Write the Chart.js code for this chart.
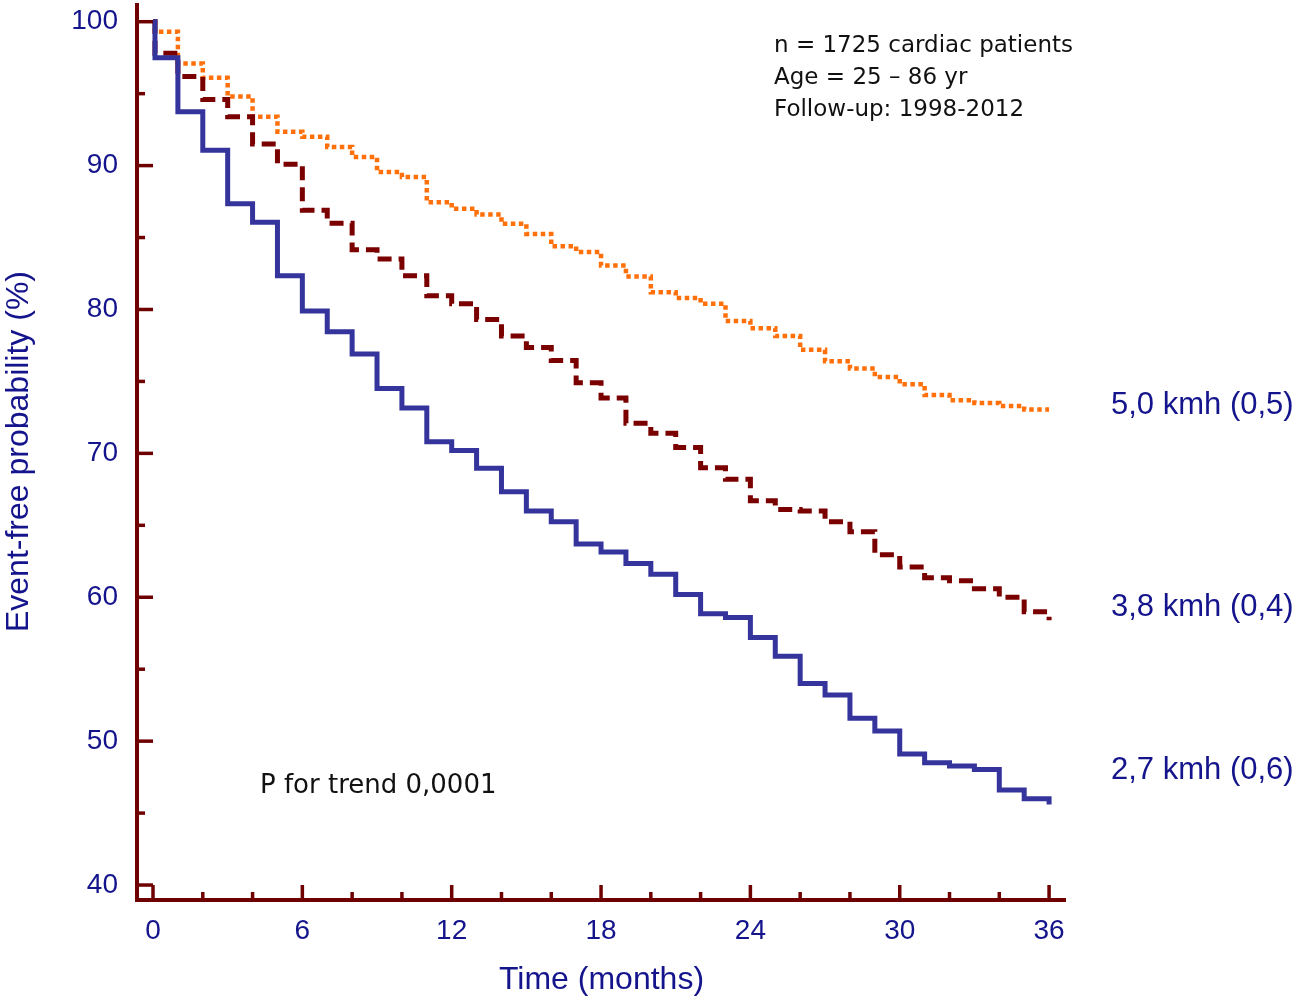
<!DOCTYPE html>
<html>
<head>
<meta charset="utf-8">
<script src="https://cdn.jsdelivr.net/npm/chart.js@4.4.0/dist/chart.umd.min.js"></script>
<style>
  html, body { margin: 0; padding: 0; background: #fff; }
  canvas { display: block; }
</style>
</head>
<body>
<canvas id="km-chart" width="1297" height="1001"></canvas>
<script>
// time axis (months) – first drop happens just after 0
const months = [0, 0.08, 1, 2, 3, 4, 5, 6, 7, 8, 9, 10, 11, 12, 13, 14, 15, 16, 17, 18,
  19, 20, 21, 22, 23, 24, 25, 26, 27, 28, 29, 30, 31, 32, 33, 34, 35, 36];

// event-free probability (%) per group
const slow27 = [100, 97.5, 93.74, 91.07, 87.35, 86.07, 82.35, 79.9, 78.46, 76.9, 74.5, 73.15,
  70.8, 70.2, 68.97, 67.34, 66.0, 65.25, 63.7, 63.15, 62.35, 61.6, 60.2, 58.85, 58.6, 57.2,
  55.9, 54.0, 53.2, 51.6, 50.7, 49.1, 48.5, 48.27, 48.03, 46.6, 46.0, 45.6];
const mid38 = [100, 97.8, 96.2, 94.6, 93.4, 91.5, 90.1, 86.9, 86.0, 84.15, 83.5, 82.35,
  80.95, 80.4, 79.3, 78.15, 77.35, 76.45, 74.9, 73.85, 72.1, 71.4, 70.4, 69.0, 68.2, 66.7,
  66.1, 66.0, 65.25, 64.55, 62.95, 62.1, 61.35, 61.15, 60.6, 60.0, 59.0, 58.4];
const fast50 = [100, 99.3, 97.1, 96.1, 94.8, 93.4, 92.35, 92.0, 91.3, 90.6, 89.55, 89.2,
  87.46, 87.0, 86.6, 85.95, 85.25, 84.4, 84.0, 83.05, 82.3, 81.2, 80.8, 80.4, 79.2, 78.7,
  78.15, 77.2, 76.4, 75.9, 75.3, 74.8, 74.05, 73.7, 73.5, 73.3, 73.05, 73.05];

const groupNames = ['2,7 kmh (0,6)', '3,8 kmh (0,4)', '5,0 kmh (0,5)'];

const xTicks = [0, 6, 12, 18, 24, 30, 36];
const xMinorTicks = [2, 4, 8, 10, 14, 16, 20, 22, 26, 28, 32, 34];
const yTicks = [40, 50, 60, 70, 80, 90, 100];
const yMinorTicks = [45, 55, 65, 75, 85, 95];

const infoLines = ['n = 1725 cardiac patients', 'Age = 25 \u2013 86 yr', 'Follow-up: 1998-2012'];
const trendText = 'P for trend 0,0001';

const axisColor = '#6e0000';
const labelColor = '#14148c';
const sansFont = "'Liberation Sans', Arial, sans-serif";
const noteFont = "'DejaVu Sans', Verdana, sans-serif";

const toPoints = (vals) => vals.map((v, i) => ({ x: months[i], y: v }));

// axis lines, inward tick marks and free text
const decorPlugin = {
  id: 'decor',
  afterDraw(chart) {
    const { ctx, chartArea: a, scales: { x, y } } = chart;
    ctx.save();
    ctx.strokeStyle = axisColor;
    ctx.lineCap = 'butt';
    ctx.lineWidth = 4;
    ctx.beginPath();
    ctx.moveTo(a.left, a.top);
    ctx.lineTo(a.left, a.bottom);
    ctx.lineTo(a.right, a.bottom);
    ctx.stroke();

    ctx.lineWidth = 3.5;
    const seg = (x1, y1, x2, y2) => { ctx.beginPath(); ctx.moveTo(x1, y1); ctx.lineTo(x2, y2); ctx.stroke(); };
    yTicks.forEach(v => { const py = y.getPixelForValue(v); seg(a.left, py, a.left + 16, py); });
    yMinorTicks.forEach(v => { const py = y.getPixelForValue(v); seg(a.left, py, a.left + 8, py); });
    xTicks.forEach(v => { const px = x.getPixelForValue(v); seg(px, a.bottom, px, a.bottom - 15); });
    xMinorTicks.forEach(v => { const px = x.getPixelForValue(v); seg(px, a.bottom, px, a.bottom - 8); });

    // group labels at the right
    ctx.fillStyle = labelColor;
    ctx.font = '31px ' + sansFont;
    ctx.textAlign = 'left';
    ctx.textBaseline = 'middle';
    ctx.fillText(groupNames[2], 1111, 405);
    ctx.fillText(groupNames[1], 1111, 607);
    ctx.fillText(groupNames[0], 1111, 770);

    // study info
    ctx.fillStyle = '#111';
    ctx.font = '23px ' + noteFont;
    infoLines.forEach((t, i) => ctx.fillText(t, 774, 46 + i * 32));
    ctx.font = '26px ' + noteFont;
    ctx.fillText(trendText, 260, 786);
    ctx.restore();
  }
};

const chart = new Chart(document.getElementById('km-chart'), {
  type: 'line',
  data: {
    datasets: [
      { label: groupNames[0], data: toPoints(slow27), borderColor: '#34349c', borderWidth: 5 },
      { label: groupNames[1], data: toPoints(mid38), borderColor: '#7a0000', borderWidth: 5, borderDash: [14, 7] },
      { label: groupNames[2], data: toPoints(fast50), borderColor: '#ff700a', borderWidth: 4.5, borderDash: [4.5, 3.5] },
    ].map(d => ({ ...d, stepped: 'before', pointRadius: 0, fill: false, borderCapStyle: 'butt', borderJoinStyle: 'miter' })),
  },
  options: {
    responsive: false,
    animation: false,
    layout: { padding: { top: 3, right: 231, left: 0, bottom: 0 } },
    plugins: { legend: { display: false }, tooltip: { enabled: false } },
    scales: {
      x: {
        type: 'linear',
        min: -0.643,
        max: 36.68,
        afterBuildTicks: (s) => { s.ticks = xTicks.map(v => ({ value: v })); },
        afterFit: (s) => { s.height = 101; s.paddingLeft = 0; s.paddingRight = 0; },
        grid: { display: false, drawTicks: false },
        border: { display: false },
        ticks: { color: labelColor, font: { family: sansFont, size: 28 }, padding: 14, maxRotation: 0, autoSkip: false },
        title: { display: true, text: 'Time (months)', color: labelColor, font: { family: sansFont, size: 32 }, padding: { top: 0, bottom: 2 } },
      },
      y: {
        min: 38.96,
        max: 101.3,
        afterBuildTicks: (s) => { s.ticks = yTicks.map(v => ({ value: v })); },
        afterFit: (s) => { s.width = 137; s.paddingTop = 0; s.paddingBottom = 0; },
        grid: { display: false, drawTicks: false },
        border: { display: false },
        ticks: { color: labelColor, font: { family: sansFont, size: 28 }, padding: 19 },
        title: { display: true, text: 'Event-free probability (%)', color: labelColor, font: { family: sansFont, size: 32 }, padding: { top: 0, bottom: 0 } },
      },
    },
  },
  plugins: [decorPlugin],
});
</script>
</body>
</html>
